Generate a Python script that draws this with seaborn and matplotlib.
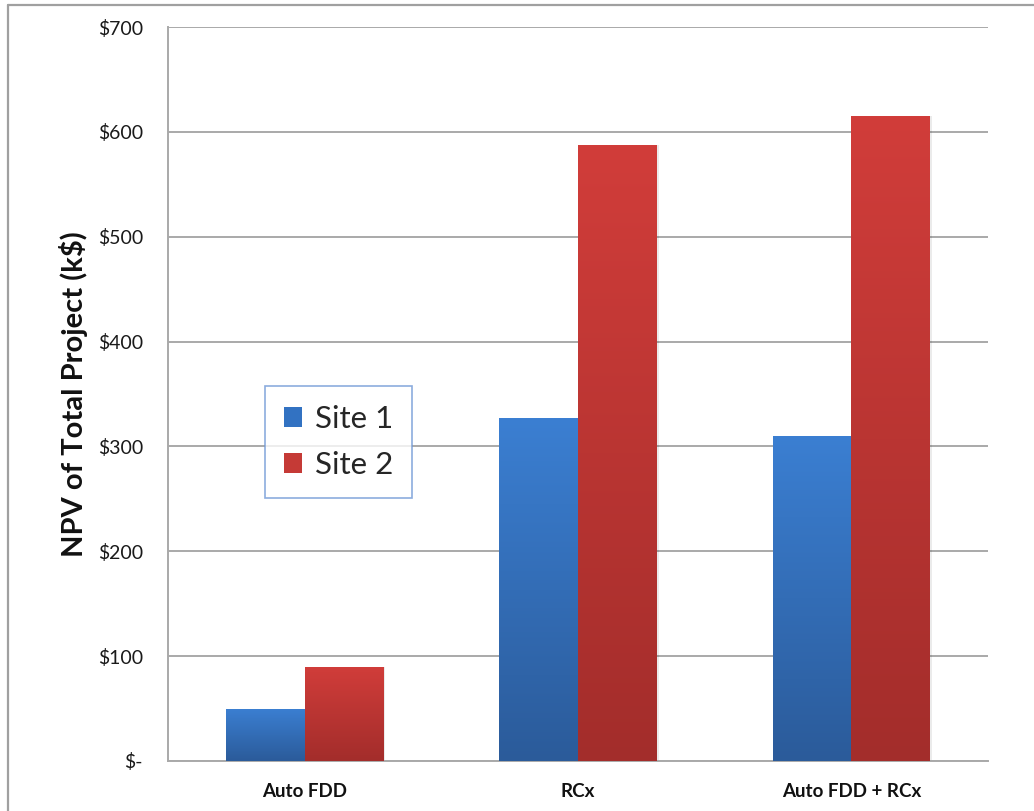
import numpy as np
import pandas as pd
import matplotlib
matplotlib.use("Agg")
import matplotlib.pyplot as plt
import seaborn as sns
from matplotlib.colors import LinearSegmentedColormap
from matplotlib.patches import Patch
from matplotlib.lines import Line2D

# Net present value of each project option, thousands of dollars
projects = ["Auto FDD", "RCx", "Auto FDD + RCx"]
sites = ["Site 1", "Site 2"]
site1_npv = [50, 327, 310]
site2_npv = [90, 587, 615]
y_ticks = [0, 100, 200, 300, 400, 500, 600, 700]
y_tick_labels = ["$-", "$100", "$200", "$300", "$400", "$500", "$600", "$700"]

df = pd.DataFrame({
    "project": projects * 2,
    "site": [sites[0]] * 3 + [sites[1]] * 3,
    "npv": site1_npv + site2_npv,
})

sns.set_theme(style="white")
plt.rcParams["font.family"] = ["Lato", "DejaVu Sans"]

fig = plt.figure(figsize=(10.34, 8.11), dpi=100)
ax = fig.add_axes([0.1625, 0.0617, 0.793, 0.905])

palette = {"Site 1": "#3470be", "Site 2": "#c63a36"}
sns.barplot(data=df, x="project", y="npv", hue="site", order=projects,
            hue_order=sites, palette=palette, width=0.575, ax=ax,
            legend=False, saturation=1, zorder=3)

# vertical gradient fill for each bar (light at the top, darker at the base)
grad = {
    "Site 1": LinearSegmentedColormap.from_list("b", ["#2b5b9a", "#3b7fd2"]),
    "Site 2": LinearSegmentedColormap.from_list("r", ["#a32d2b", "#d13d3a"]),
}
ramp = np.linspace(0, 1, 256).reshape(-1, 1)
for container, site in zip(ax.containers, sites):
    for bar in container:
        x0, w, h = bar.get_x(), bar.get_width(), bar.get_height()
        # soft shadow to the right of the bar
        ax.add_patch(plt.Rectangle((x0 + w, 0), 0.008, h, color="#000000",
                                   alpha=0.08, lw=0, zorder=2))
        im = ax.imshow(ramp, cmap=grad[site], origin="lower", aspect="auto",
                       extent=[x0, x0 + w, 0, h], zorder=3.5)
        im.set_clip_path(bar)
        bar.set_facecolor("none")
        bar.set_edgecolor("none")

ax.set_xlim(-0.5, 2.5)
ax.set_ylim(0, 700)
ax.set_yticks(y_ticks)
ax.set_yticklabels(y_tick_labels)
ax.yaxis.grid(True, color="#a9a9a9", linewidth=1.4, zorder=1)
ax.set_axisbelow(True)

for side in ["top", "right"]:
    ax.spines[side].set_visible(False)
for side in ["left", "bottom"]:
    ax.spines[side].set_color("#a9a9a9")
    ax.spines[side].set_linewidth(1.4)

ax.tick_params(axis="y", length=0, pad=18, labelsize=14, labelcolor="#1a1a1a")
ax.tick_params(axis="x", length=0, pad=16, labelsize=13.5)
for lab in ax.get_xticklabels():
    lab.set_fontweight("bold")
    lab.set_color("#111111")

ax.set_xlabel("")
ax.set_ylabel("NPV of Total Project (k$)", fontsize=21, fontweight="bold",
              color="#111111")
ax.yaxis.set_label_coords(-0.097, 0.5)

handles = [Patch(facecolor="#3272c2", edgecolor="none"),
           Patch(facecolor="#c53a36", edgecolor="none")]
leg = ax.legend(handles, sites, loc="upper left",
                bbox_to_anchor=(0.118, 0.511), frameon=True, fancybox=False,
                fontsize=22.5, handlelength=0.6, handleheight=0.6,
                handletextpad=0.4, labelspacing=0.6, borderpad=0.6,
                borderaxespad=0)
leg.get_frame().set_edgecolor("#6f98d6")
leg.get_frame().set_linewidth(1.2)
leg.set_zorder(6)

# outer frame of the figure
fig.add_artist(Line2D([0.0077, 0.0077], [0.0, 0.9938], color="#a0a0a0",
                      lw=1.6, transform=fig.transFigure))
fig.add_artist(Line2D([0.0077, 1.0], [0.9938, 0.9938], color="#a0a0a0",
                      lw=1.6, transform=fig.transFigure))

fig.savefig("out.png", dpi=100)
